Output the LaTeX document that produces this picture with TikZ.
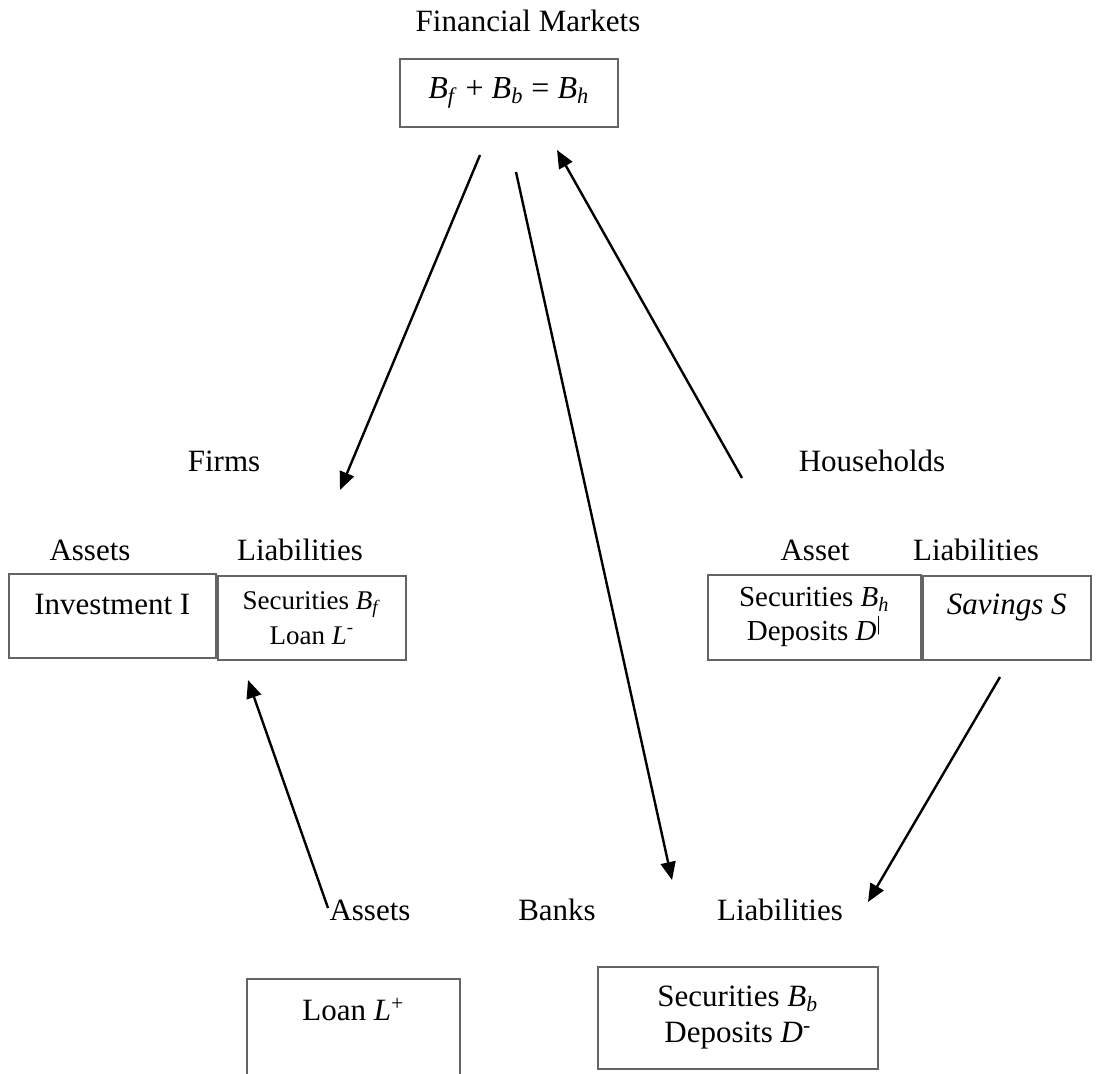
\documentclass[tikz,border=0pt]{standalone}
\usepackage{fontspec}
\setmainfont{Liberation Serif}
\usepackage{tikz}
\usetikzlibrary{arrows.meta, positioning}
\definecolor{BoxGray}{RGB}{100, 100, 100}
\definecolor{FlowBlack}{RGB}{0, 0, 0}
\newcommand{\vsub}[2]{\textit{#1}\textsubscript{\textit{#2}}}
\newcommand{\vsup}[2]{\textit{#1}\textsuperscript{#2}}
\tikzset{
    acct/.style={draw=BoxGray, line width=0.8pt, anchor=north west, inner sep=0pt, align=center},
    lbl/.style={inner sep=0pt, text height=0.7em, text depth=0.2em, font=\fontsize{15.5}{19}\selectfont},
    flow/.style={draw=FlowBlack, line width=1.2pt, -{Triangle[length=9pt, width=7.5pt]}}
}

\begin{document}
\begin{tikzpicture}[x=0.5pt, y=-0.5pt]
    \path[use as bounding box] (0,0) rectangle (1098,1073);
    \clip (0,0) rectangle (1098,1073);

    % financial markets
    \node[lbl] (fmTitle) at (528,26) {Financial Markets};
    \node[acct, minimum width=109pt, minimum height=34pt, font=\fontsize{16}{19}\selectfont] (fmBox) at (399,58)
      {\vsub{B}{f} + \vsub{B}{b} = \vsub{B}{h}};

    % firms
    \node[lbl] (firmTitle) at (224,466) {Firms};
    \node[lbl] (firmAssets) at (90,555) {Assets};
    \node[lbl] (firmLiab) at (300,555) {Liabilities};
    \node[acct, minimum width=103.5pt, text height=20.5pt, text depth=21.5pt, font=\fontsize{15.5}{19}\selectfont] (firmInv) at (8,573)
      {Investment I};
    \node[acct, minimum width=94pt, minimum height=42pt, font=\fontsize{13.5}{17.5}\selectfont] (firmSec) at (217,575)
      {Securities \vsub{B}{f}\\Loan \vsup{L}{-}};

    % households
    \node[lbl] (hhTitle) at (872,466) {Households};
    \node[lbl] (hhAsset) at (815,555) {Asset};
    \node[lbl] (hhLiab) at (976,555) {Liabilities};
    \node[acct, minimum width=106.5pt, minimum height=42.5pt, font=\fontsize{14.5}{17}\selectfont] (hhSec) at (707,574)
      {Securities \vsub{B}{h}\\Deposits \vsup{D}{|}};
    \node[acct, minimum width=84pt, text height=19.5pt, text depth=22.5pt, font=\fontsize{15.5}{19}\selectfont\itshape] (hhSav) at (922,575)
      {Savings S};

    % banks
    \node[lbl] (bankAssets) at (370,915) {Assets};
    \node[lbl] (bankTitle) at (557,915) {Banks};
    \node[lbl] (bankLiab) at (780,915) {Liabilities};
    \node[acct, minimum width=106.5pt, text height=21pt, text depth=32.5pt, font=\fontsize{15.5}{19}\selectfont] (bankLoan) at (246,978)
      {Loan \vsup{L}{+}};
    \node[acct, minimum width=140pt, minimum height=51pt, font=\fontsize{15.5}{18}\selectfont] (bankSec) at (597,966)
      {Securities \vsub{B}{b}\\Deposits \vsup{D}{-}};

    % flows
    \coordinate (fmToFirm) at (480,155);
    \coordinate (firmIn) at (340,490);
    \coordinate (fmToBank) at (516,172);
    \coordinate (bankIn) at (672,880);
    \coordinate (hhToFm) at (742,478);
    \coordinate (fmIn) at (557,150);
    \coordinate (bankToFirm) at (328,908);
    \coordinate (firmLoanIn) at (248,680);
    \coordinate (hhToBank) at (1000,677);
    \coordinate (bankDepIn) at (868,902);
    \draw[flow] (fmToFirm) -- (firmIn);
    \draw[flow] (fmToBank) -- (bankIn);
    \draw[flow] (hhToFm) -- (fmIn);
    \draw[flow] (bankToFirm) -- (firmLoanIn);
    \draw[flow] (hhToBank) -- (bankDepIn);
\end{tikzpicture}
\end{document}
